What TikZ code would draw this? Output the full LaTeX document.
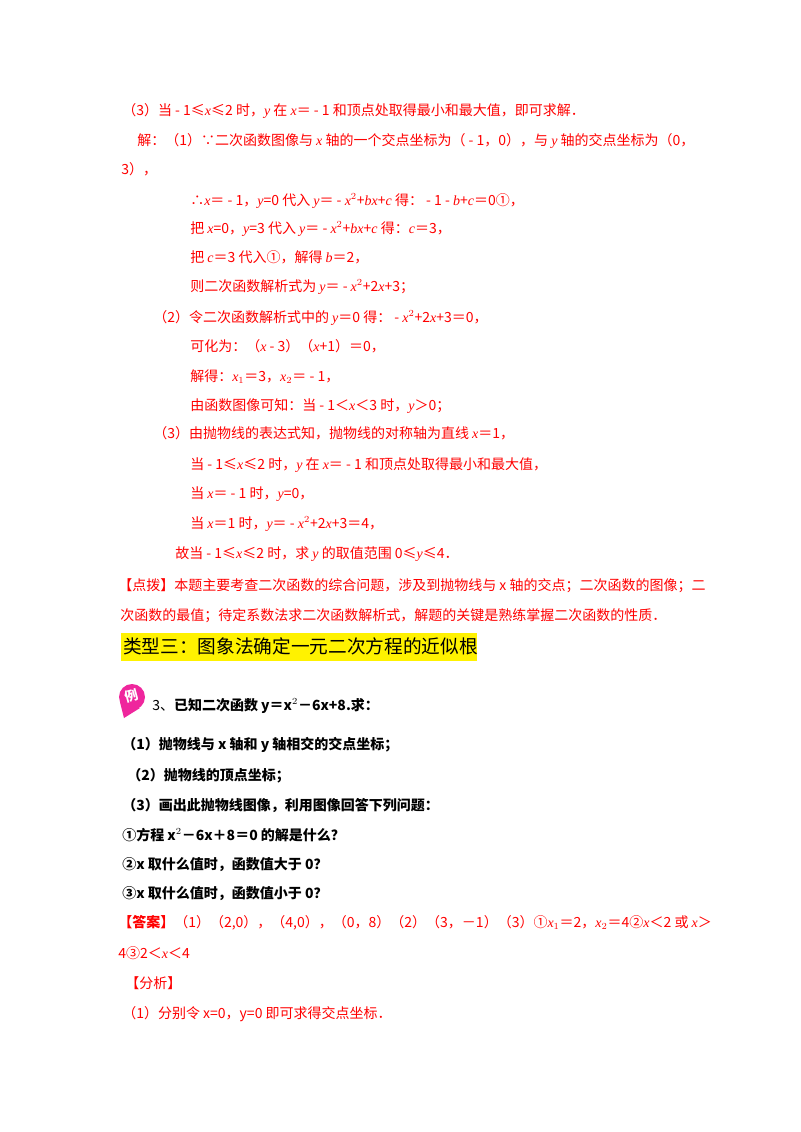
\documentclass[tikz,border=0pt]{standalone}
\usepackage{fontspec}
\setmainfont{Liberation Serif}
\newfontfamily\cjk{Noto Sans CJK SC}
\newcommand{\mi}[1]{{\rmfamily\itshape #1}}
\begin{document}
\begin{tikzpicture}[x=0.75pt,y=-0.75pt,
  red/.style={anchor=base west,inner sep=0pt,text=red,font=\cjk\fontsize{10.5pt}{12pt}\selectfont},
  blk/.style={anchor=base west,inner sep=0pt,text=black,font=\cjk\bfseries\fontsize{10.5pt}{12pt}\selectfont}]
\useasboundingbox (0,0) rectangle (800,1132);
\fill[white] (0,0) rectangle (800,1132);
\node[red] (l1) at (122,115) {（3）当 - 1≤\mi{x}≤2 时，\mi{y} 在 \mi{x}＝ - 1 和顶点处取得最小和最大值，即可求解．};
\node[red] (l2) at (137,145) {解：（1）∵二次函数图像与 \mi{x} 轴的一个交点坐标为（ - 1，0），与 \mi{y} 轴的交点坐标为（0，};
\node[red] (l3) at (121,174) {3），};
\node[red] (l4) at (190,205) {∴\mi{x}＝ - 1，\mi{y}=0 代入 \mi{y}＝ - \mi{x}$^2$+\mi{bx}+\mi{c} 得： - 1 - \mi{b}+\mi{c}＝0①，};
\node[red] (l5) at (190,233) {把 \mi{x}=0，\mi{y}=3 代入 \mi{y}＝ - \mi{x}$^2$+\mi{bx}+\mi{c} 得：\mi{c}＝3，};
\node[red] (l6) at (190,262) {把 \mi{c}＝3 代入①，解得 \mi{b}＝2，};
\node[red] (l7) at (190,291) {则二次函数解析式为 \mi{y}＝ - \mi{x}$^2$+2\mi{x}+3；};
\node[red] (l8) at (153,322) {（2）令二次函数解析式中的 \mi{y}＝0 得： - \mi{x}$^2$+2\mi{x}+3＝0，};
\node[red] (l9) at (190,351) {可化为：（\mi{x} - 3）（\mi{x}+1）＝0，};
\node[red] (l10) at (190,381) {解得：\mi{x}$_1$＝3，\mi{x}$_2$＝ - 1，};
\node[red] (l11) at (190,410) {由函数图像可知：当 - 1＜\mi{x}＜3 时，\mi{y}＞0；};
\node[red] (l12) at (153,438) {（3）由抛物线的表达式知，抛物线的对称轴为直线 \mi{x}＝1，};
\node[red] (l13) at (190,469) {当 - 1≤\mi{x}≤2 时，\mi{y} 在 \mi{x}＝ - 1 和顶点处取得最小和最大值，};
\node[red] (l14) at (190,498) {当 \mi{x}＝ - 1 时，\mi{y}=0，};
\node[red] (l15) at (190,528) {当 \mi{x}＝1 时，\mi{y}＝ - \mi{x}$^2$+2\mi{x}+3＝4，};
\node[red] (l16) at (175,558) {故当 - 1≤\mi{x}≤2 时，求 \mi{y} 的取值范围 0≤\mi{y}≤4．};
\node[red] (l17) at (118,590) {【点拨】本题主要考查二次函数的综合问题，涉及到抛物线与 x 轴的交点；二次函数的图像；二};
\node[red] (l18) at (120,620) {次函数的最值；待定系数法求二次函数解析式，解题的关键是熟练掌握二次函数的性质．};
\fill[yellow] (121,633) rectangle (477,661);
\node[anchor=base west,inner sep=0pt,font=\cjk\fontsize{14pt}{16pt}\selectfont] (hd) at (123,653) {类型三：图象法确定一元二次方程的近似根};
\fill[magenta!85!white] (132,697) circle (13) ;
\fill[magenta!85!white] (120,702) -- (124,718) -- (140,708) -- cycle;
\node[text=white,font=\cjk\bfseries\fontsize{10pt}{12pt}\selectfont,rotate=15] (li) at (132,696) {例};
\node[blk] (q0) at (152,710) {{\mdseries 3、}已知二次函数 y＝x$^2$－6x+8.求：};
\node[blk] (q1) at (122,749) {（1）抛物线与 x 轴和 y 轴相交的交点坐标；};
\node[blk] (q2) at (127,780) {（2）抛物线的顶点坐标；};
\node[blk] (q3) at (122,810) {（3）画出此抛物线图像，利用图像回答下列问题：};
\node[blk] (q4) at (122,840) {①方程 x$^2$－6x＋8＝0 的解是什么？};
\node[blk] (q5) at (122,869) {②x 取什么值时，函数值大于 0？};
\node[blk] (q6) at (122,898) {③x 取什么值时，函数值小于 0？};
\node[red] (a1) at (118,927) {{\bfseries 【答案】}（1）（2,0），（4,0），（0，8）（2）（3，－1）（3）①\mi{x}$_1$＝2，\mi{x}$_2$＝4②\mi{x}＜2 或 \mi{x}＞};
\node[red] (a2) at (118,958) {4③2＜\mi{x}＜4};
\node[red] (a3) at (125,988) {【分析】};
\node[red] (a4) at (122,1018) {（1）分别令 x=0，y=0 即可求得交点坐标．};
\end{tikzpicture}
\end{document}
